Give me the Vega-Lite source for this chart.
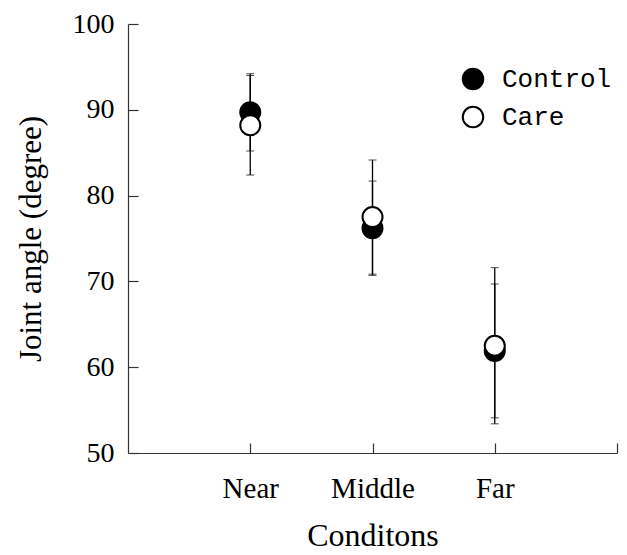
{
  "$schema": "https://vega.github.io/schema/vega-lite/v6.json",
  "autosize": {"type": "none"},
  "width": 489,
  "height": 429,
  "padding": {"left": 128, "top": 24, "right": 10, "bottom": 102},
  "background": "white",
  "config": {
    "view": {"stroke": null},
    "axis": {
      "domainColor": "#333333",
      "domainWidth": 1.2,
      "tickColor": "#333333",
      "tickWidth": 1.2,
      "grid": false,
      "labelFont": "Liberation Serif",
      "labelFontSize": 28,
      "labelColor": "black",
      "titleFont": "Liberation Serif",
      "titleFontSize": 31,
      "titleFontWeight": "normal",
      "titleColor": "black"
    },
    "axisX": {"labelFontSize": 29, "titleFontSize": 32}
  },
  "data": {
    "values": [
      {"cond": 1, "series": "Control", "mean": 89.7, "lo": 85.2, "hi": 94.2},
      {"cond": 2, "series": "Control", "mean": 76.2, "lo": 70.7, "hi": 81.7},
      {"cond": 3, "series": "Control", "mean": 61.9, "lo": 54.1, "hi": 69.7},
      {"cond": 1, "series": "Care", "mean": 88.2, "lo": 82.4, "hi": 94.0},
      {"cond": 2, "series": "Care", "mean": 77.5, "lo": 70.85, "hi": 84.15},
      {"cond": 3, "series": "Care", "mean": 62.5, "lo": 53.4, "hi": 71.6}
    ]
  },
  "layer": [
    {
      "mark": {"type": "errorbar", "ticks": {"size": 8, "color": "black", "strokeWidth": 1.5}, "rule": {"color": "black", "strokeWidth": 1.3}},
      "encoding": {
        "x": {"field": "cond", "type": "quantitative", "title": "Conditons"},
        "y": {"field": "lo", "type": "quantitative", "title": "Joint angle (degree)"},
        "y2": {"field": "hi"}
      }
    },
    {
      "mark": {"type": "point", "shape": "circle", "size": 400, "filled": false, "stroke": "black", "strokeWidth": 2, "opacity": 1},
      "encoding": {
        "x": {
          "field": "cond", "type": "quantitative",
          "scale": {"domain": [0, 4], "nice": false, "zero": false},
          "axis": {
            "values": [1, 2, 3, 4],
            "tickSize": -10,
            "labelPadding": 31,
            "labelExpr": "datum.value == 1 ? 'Near' : datum.value == 2 ? 'Middle' : datum.value == 3 ? 'Far' : ''",
            "titlePadding": 17
          },
          "title": "Conditons"
        },
        "y": {
          "field": "mean", "type": "quantitative",
          "scale": {"domain": [50, 100], "nice": false, "zero": false},
          "axis": {
            "values": [50, 60, 70, 80, 90, 100],
            "tickSize": -10,
            "labelPadding": 24,
            "titlePadding": 25
          },
          "title": "Joint angle (degree)"
        },
        "fill": {
          "field": "series", "type": "nominal",
          "scale": {"domain": ["Control", "Care"], "range": ["black", "white"]},
          "legend": {
            "title": null,
            "orient": "none",
            "legendX": 332,
            "legendY": 42,
            "symbolType": "circle",
            "symbolSize": 420,
            "symbolStrokeColor": "black",
            "symbolStrokeWidth": 2,
            "labelFont": "Liberation Mono",
            "labelFontSize": 26,
            "labelColor": "black",
            "labelOffset": 16,
            "rowPadding": 8
          }
        }
      }
    }
  ]
}
